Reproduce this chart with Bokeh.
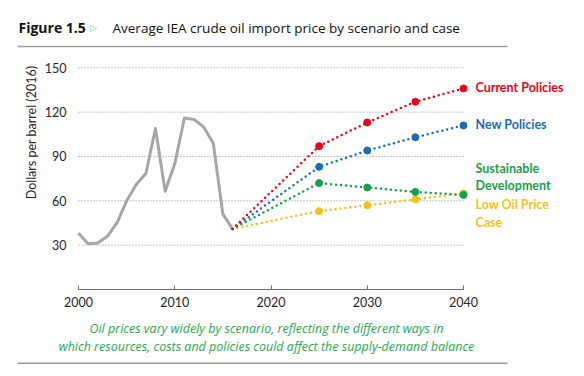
import math
from bokeh.plotting import figure
from bokeh.models import Range1d, FixedTicker
from bokeh.core.properties import value
from bokeh.embed import file_html
from bokeh.resources import INLINE

# ---------------- data ----------------
hist_years = [2000, 2001, 2002, 2003, 2004, 2005, 2006, 2007, 2008,
              2009, 2010, 2011, 2012, 2013, 2014, 2015, 2016]
hist_price = [38, 31, 31.5, 36, 45, 60, 71, 78.5, 109,
              66.5, 85, 116, 115, 110, 99, 51, 41]

proj_years = [2016, 2025, 2030, 2035, 2040]
current_policies = [41, 97, 113, 127, 136]
new_policies = [41, 83, 94, 103, 111]
sustainable_dev = [41, 72, 69, 66, 64]
low_oil_price = [41, 53, 57, 61, 65]

y_ticks = [30, 60, 90, 120, 150]
x_ticks = [2000, 2010, 2020, 2030, 2040]

title_bold = "Figure 1.5"
title_text = "Average IEA crude oil import price by scenario and case"
caption_lines = ["Oil prices vary widely by scenario, reflecting the different ways in",
                 "which resources, costs and policies could affect the supply-demand balance"]
y_label = "Dollars per barrel (2016)"

# ---------------- layout / styles ----------------
W, H = 584, 376
LEFT, BOTTOM = 78, 289          # pixel position of (2000, 0)
X0, X_PX = 2000, 9.625          # px per year
Y_PX = 1.478                    # px per dollar
RED, BLUE, GREEN, YELLOW = "#e3061b", "#1a6db6", "#17a04c", "#f2c21a"
GREY = "#a6a6a6"
CAP_GREEN = "#2aa84f"
INK = "#262626"


def dx(px):
    return X0 + (px - LEFT) / X_PX


def dy(py):
    return (BOTTOM - py) / Y_PX


p = figure(width=W, height=H,
           x_range=Range1d(dx(0), dx(W)),
           y_range=Range1d(dy(H), dy(0)),
           toolbar_location=None, output_backend="svg",
           min_border=0, min_border_left=0, min_border_right=0,
           min_border_top=0, min_border_bottom=0)
p.outline_line_color = None
p.grid.visible = False

# gridlines
p.segment(x0=[x_ticks[0]] * len(y_ticks), x1=[x_ticks[-1]] * len(y_ticks),
          y0=y_ticks, y1=y_ticks, line_color="#8c8c8c", line_width=1,
          line_dash="1 2")

# y axis (drawn inside the canvas at x = 2000)
p.yaxis.fixed_location = x_ticks[0]
p.yaxis.ticker = FixedTicker(ticks=y_ticks)
p.yaxis.bounds = (y_ticks[0], y_ticks[-1])
p.yaxis.axis_line_color = None
p.yaxis.major_tick_line_color = None
p.yaxis.minor_tick_line_color = None
p.yaxis.major_tick_out = 0
p.yaxis.major_tick_in = 0
p.yaxis.major_label_standoff = 12
p.yaxis.major_label_text_font = "Lato"
p.yaxis.major_label_text_font_size = "12.5px"
p.yaxis.major_label_text_color = INK

# x axis (drawn at y = 0)
p.xaxis.fixed_location = 0
p.xaxis.ticker = FixedTicker(ticks=x_ticks)
p.xaxis.bounds = (x_ticks[0], x_ticks[-1])
p.xaxis.axis_line_color = "#6e6e6e"
p.xaxis.axis_line_width = 1
p.xaxis.major_tick_line_color = "#6e6e6e"
p.xaxis.major_tick_in = 4
p.xaxis.major_tick_out = 0
p.xaxis.minor_tick_line_color = None
p.xaxis.major_label_standoff = 7
p.xaxis.major_label_text_font = "Lato"
p.xaxis.major_label_text_font_size = "12.5px"
p.xaxis.major_label_text_color = INK

# history
p.line(hist_years, hist_price, line_color=GREY, line_width=3, line_join="round")

series = [(low_oil_price, YELLOW), (sustainable_dev, GREEN),
          (new_policies, BLUE), (current_policies, RED)]
for vals, col in series:
    p.line(proj_years, vals, line_color=col, line_width=2.5, line_dash="0 5",
           line_cap="round")
    p.scatter(proj_years[1:], vals[1:], size=7, fill_color=col, line_color=col)

# scenario labels
label_rows = [
    (["Current Policies"], [87], RED),
    (["New Policies"], [124], BLUE),
    (["Sustainable", "Development"], [168, 185], GREEN),
    (["Low Oil Price", "Case"], [204, 222], YELLOW),
]
for texts, pys, col in label_rows:
    p.text(x=[dx(475)] * len(texts), y=[dy(v) for v in pys], text=texts,
           text_font=value("Lato"), text_font_style="bold",
           text_font_size="12.5px", text_color=col,
           text_baseline="middle", text_align="left")

# y axis label
p.text(x=[dx(31)], y=[dy(132)], text=[y_label], angle=math.pi / 2,
       text_font=value("Lato"), text_font_size="12.5px", text_color=INK,
       text_align="center", text_baseline="middle")

# title
p.text(x=[dx(18)], y=[dy(27)], text=[title_bold], text_font=value("Open Sans"),
       text_font_style="bold", text_font_size="14px", text_color="#111111",
       text_align="left", text_baseline="middle")
p.text(x=[dx(89.5)], y=[dy(27.5)], text=["\u25B7"], text_font=value("DejaVu Sans"),
       text_font_size="9px", text_color="#7cc49a",
       text_align="left", text_baseline="middle")
p.text(x=[dx(112)], y=[dy(27)], text=[title_text], text_font=value("Open Sans"),
       text_font_size="13.5px", text_color="#111111",
       text_align="left", text_baseline="middle")

# caption
p.text(x=[dx(266)] * 2, y=[dy(327.7), dy(346)], text=caption_lines,
       text_font=value("Open Sans"), text_font_style="italic",
       text_font_size="12.5px", text_color=CAP_GREEN,
       text_align="center", text_baseline="middle")

# horizontal rules
p.segment(x0=[dx(17)] * 2, x1=[dx(507)] * 2, y0=[dy(46), dy(362.7)],
          y1=[dy(46), dy(362.7)], line_color="#9a9a9a", line_width=1.5)

open("out.html", "w").write(file_html(p, INLINE))
